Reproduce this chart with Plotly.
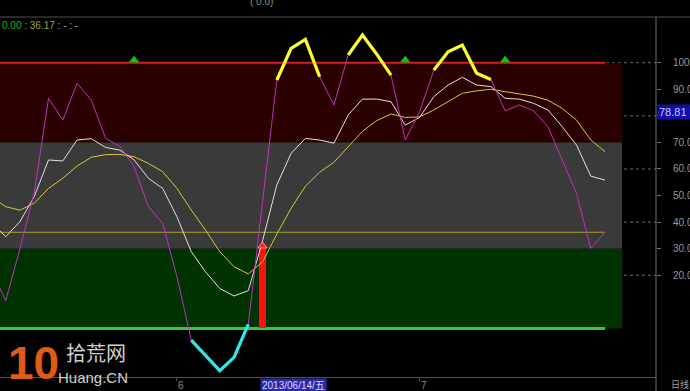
import plotly.graph_objects as go
import datetime as dt

# ---------------- data ----------------
dates = ["2013-05-15", "2013-05-16", "2013-05-17", "2013-05-20", "2013-05-21", "2013-05-22",
         "2013-05-23", "2013-05-24", "2013-05-27", "2013-05-28", "2013-05-29", "2013-05-30",
         "2013-05-31", "2013-06-03", "2013-06-04", "2013-06-05", "2013-06-06", "2013-06-07",
         "2013-06-13", "2013-06-14", "2013-06-17", "2013-06-18", "2013-06-19", "2013-06-20",
         "2013-06-21", "2013-06-24", "2013-06-25", "2013-06-26", "2013-06-27", "2013-06-28",
         "2013-07-01", "2013-07-02", "2013-07-03", "2013-07-04", "2013-07-05", "2013-07-08",
         "2013-07-09", "2013-07-10", "2013-07-11", "2013-07-12", "2013-07-15", "2013-07-16",
         "2013-07-17", "2013-07-18"]

K = [40.0, 34.5, 40.2, 49.6, 63.4, 63.0, 70.9, 71.4, 68.1, 67.1, 63.4, 56.5, 52.7, 42.0,
     28.9, 21.3, 15.0, 12.2, 14.2, 33.0, 54.0, 65.9, 71.5, 70.9, 69.7, 80.3, 86.3, 86.3,
     85.3, 76.5, 79.4, 87.2, 91.6, 94.5, 91.6, 91.0, 86.6, 86.3, 84.7, 82.2, 75.9, 69.0,
     57.3, 55.8]

D = [49.5, 45.8, 44.5, 47.1, 52.7, 56.5, 61.1, 64.4, 65.4, 65.5, 64.6, 62.1, 59.0, 52.7,
     44.6, 37.0, 28.9, 23.2, 20.5, 25.0, 35.5, 45.2, 53.5, 58.8, 62.5, 68.2, 74.2, 78.2,
     80.7, 79.4, 79.6, 82.2, 85.3, 88.5, 89.4, 90.0, 89.1, 88.2, 87.4, 85.9, 82.8, 78.4,
     70.9, 66.5]

J = [22.0, 10.4, 30.0, 51.0, 86.6, 78.4, 92.2, 85.9, 71.5, 68.5, 60.8, 45.8, 39.5, 19.5,
     -4.4, -10.0, -15.9, -10.9, 1.5, 47.7, 93.5, 105.4, 108.8, 94.7, 84.1, 102.9, 110.4,
     103.2, 95.3, 70.9, 81.5, 97.2, 104.1, 106.6, 96.0, 93.7, 81.9, 84.1, 81.9, 75.9, 63.4,
     50.8, 30.1, 36.17]

J_HIGH = 90        # J above this drawn thick yellow
J_LOW = 5          # J below this drawn thick cyan
REF_LINE = 36.17   # horizontal reference line
CURRENT_LABEL = "78.81"

sell_signal_dates = ["2013-05-29", "2013-06-28", "2013-07-09"]
sell_signal_level = 101
buy_signal_dates = ["2013-06-14"]
buy_signal_values = [30.5]
cursor_date = "2013-06-14"

band_levels = [(70, 100, "#2b0000"), (30, 70, "#3a3a3a"), (0, 30, "#003300")]
grid_levels = [20, 40, 60, 80, 100]
y_ticks = [20, 30, 40, 50, 60, 70, 80, 90, 100]
y_ticktext = ["20.0", "30.0", "40.0", "50.0", "60.0", "70.0", "", "90.0", "100.0"]  # 80 hidden by value box

# ---------------- derived ----------------
x = list(range(len(dates)))
idx = {d: i for i, d in enumerate(dates)}
J_hi = [v if v > J_HIGH else None for v in J]
J_lo = [v if v < J_LOW else None for v in J]
last_x = x[-1]
X0, X1 = 0.6, 46.57
BAND_END = 44.19

fig = go.Figure()
fig.add_trace(go.Scatter(x=x, y=D, mode="lines", line=dict(color="#d8c838", width=1)))
fig.add_trace(go.Scatter(x=x, y=K, mode="lines", line=dict(color="#e2e2e2", width=1)))
fig.add_trace(go.Scatter(x=x, y=J, mode="lines", line=dict(color="#c030c0", width=1)))
fig.add_trace(go.Scatter(x=x, y=J_hi, mode="lines", connectgaps=False,
                         line=dict(color="#ffff30", width=3.2)))
fig.add_trace(go.Scatter(x=x, y=J_lo, mode="lines", connectgaps=False,
                         line=dict(color="#30e8e8", width=3.2)))
fig.add_trace(go.Bar(x=[idx[d] for d in buy_signal_dates], y=buy_signal_values, width=0.5,
                     marker=dict(color="#ff1010", line=dict(width=0))))
fig.add_trace(go.Scatter(x=[idx[d] for d in buy_signal_dates], y=[v + 0.5 for v in buy_signal_values],
                         mode="markers",
                         marker=dict(symbol="triangle-up", size=8, color="#ff2020",
                                     line=dict(color="#ff9090", width=1))))
fig.add_trace(go.Scatter(x=[idx[d] for d in sell_signal_dates],
                         y=[sell_signal_level] * len(sell_signal_dates), mode="markers",
                         marker=dict(symbol="triangle-up", size=8, color="#20c020",
                                     line=dict(color="#10a010", width=1))))

shapes = []
for g in grid_levels:
    shapes.append(dict(type="line", xref="paper", yref="y", x0=0, x1=1, y0=g, y1=g,
                       line=dict(color="#6a6a6a", width=1, dash="dot"), layer="between"))
for lo, hi, c in band_levels:
    shapes.append(dict(type="rect", xref="x", yref="y", x0=X0, x1=BAND_END, y0=lo, y1=hi,
                       fillcolor=c, line=dict(width=0), layer="between"))
shapes.append(dict(type="line", xref="x", yref="y", x0=X0, x1=last_x, y0=100, y1=100,
                   line=dict(color="#d82020", width=2), layer="between"))
shapes.append(dict(type="line", xref="x", yref="y", x0=X0, x1=last_x, y0=0, y1=0,
                   line=dict(color="#3cc83c", width=3), layer="between"))
shapes.append(dict(type="line", xref="x", yref="y", x0=X0, x1=last_x, y0=REF_LINE, y1=REF_LINE,
                   line=dict(color="#a8a020", width=1), layer="between"))
# frame lines
shapes.append(dict(type="line", xref="paper", yref="paper", x0=0, x1=690 / 656, y0=1, y1=1,
                   line=dict(color="#505050", width=1)))
shapes.append(dict(type="line", xref="paper", yref="paper", x0=1, x1=1, y0=1, y1=-14 / 360,
                   line=dict(color="#707070", width=1)))

annotations = []
# month labels
prev_m = None
for i, d in enumerate(dates):
    m = int(d[5:7])
    if prev_m is not None and m != prev_m:
        annotations.append(dict(x=i, y=0, xref="x", yref="paper", text=str(m), showarrow=False,
                                xanchor="left", yanchor="top", yshift=-1, xshift=-1,
                                font=dict(family="Liberation Sans", size=10, color="#8a8a8a")))
    prev_m = m
cd = dt.date.fromisoformat(cursor_date)
week = "一二三四五六日"[cd.weekday()]
annotations.append(dict(x=idx[cursor_date], y=0, xref="x", yref="paper",
                        text=cd.strftime("%Y/%m/%d") + "/" + week, showarrow=False,
                        xanchor="left", yanchor="top", xshift=-3, yshift=-1,
                        bgcolor="#2a2aa8", borderpad=1,
                        font=dict(family="Liberation Sans, Noto Sans CJK SC", size=10, color="#d8d8ff")))
annotations.append(dict(x=1, y=-7 / 360, xref="paper", yref="paper", text="日线", showarrow=False,
                        xanchor="left", yanchor="middle", xshift=13,
                        font=dict(family="Noto Sans CJK SC", size=9, color="#a0a0a0")))
annotations.append(dict(x=1, y=81.5, xref="paper", yref="y", text=CURRENT_LABEL, showarrow=False,
                        xanchor="left", yanchor="middle", xshift=1, bgcolor="#1010a8",
                        borderpad=1, width=32, align="left",
                        font=dict(family="Liberation Sans", size=11, color="#c8c8ff")))
annotations.append(dict(x=0, y=1 - 8 / 360, xref="paper", yref="paper", showarrow=False,
                        xanchor="left", yanchor="middle",
                        text=("<span style='color:#20b020'>0.00</span>"
                              "<span style='color:#a0a040'> : " + f"{REF_LINE:.2f}" + "</span>"
                              "<span style='color:#b0b0b0'> : - : -</span>"),
                        font=dict(family="Liberation Sans", size=10)))
annotations.append(dict(x=248 / 656, y=1 + 15 / 360, xref="paper", yref="paper", showarrow=False,
                        xanchor="left", yanchor="middle", text="( 0.0)",
                        font=dict(family="Liberation Sans", size=10, color="#909090")))
# logo
annotations.append(dict(x=6 / 656, y=-14 / 360, xref="paper", yref="paper", showarrow=False,
                        xanchor="left", yanchor="bottom", text="<b>10</b>",
                        font=dict(family="Liberation Sans", size=46, color="#e05a18")))
annotations.append(dict(x=64 / 656, y=-(369 - 377) / 360, xref="paper", yref="paper", showarrow=False,
                        xanchor="left", yanchor="bottom", text="拾荒网",
                        font=dict(family="Noto Sans CJK SC", size=20, color="#d0d0d0")))
annotations.append(dict(x=56 / 656, y=-(388 - 377) / 360, xref="paper", yref="paper", showarrow=False,
                        xanchor="left", yanchor="bottom", text="Huang.CN",
                        font=dict(family="Liberation Sans", size=15, color="#d0d0d0")))

fig.update_layout(
    width=690, height=391,
    margin=dict(l=0, r=34, t=17, b=14, autoexpand=False),
    paper_bgcolor="#000000", plot_bgcolor="#000000",
    showlegend=False, bargap=0,
    shapes=shapes, annotations=annotations,
    xaxis=dict(range=[X0, X1], showgrid=False, zeroline=False, showline=True, automargin=False,
               linecolor="#505050", linewidth=1, showticklabels=False,
               ticks="outside", ticklen=3, tickcolor="#505050",
               tickvals=[i for i in range(1, len(dates)) if dates[i][5:7] != dates[i - 1][5:7]]),
    yaxis=dict(range=[-18.3, 117.2], side="right", showgrid=False, zeroline=False, automargin=False,
               showline=False, tickvals=y_ticks, ticktext=y_ticktext,
               ticks="outside", ticklen=4, tickcolor="#707070", ticklabelstandoff=10,
               tickfont=dict(family="Liberation Sans", size=10, color="#9a9a9a")),
)

fig.write_html("out.html")
